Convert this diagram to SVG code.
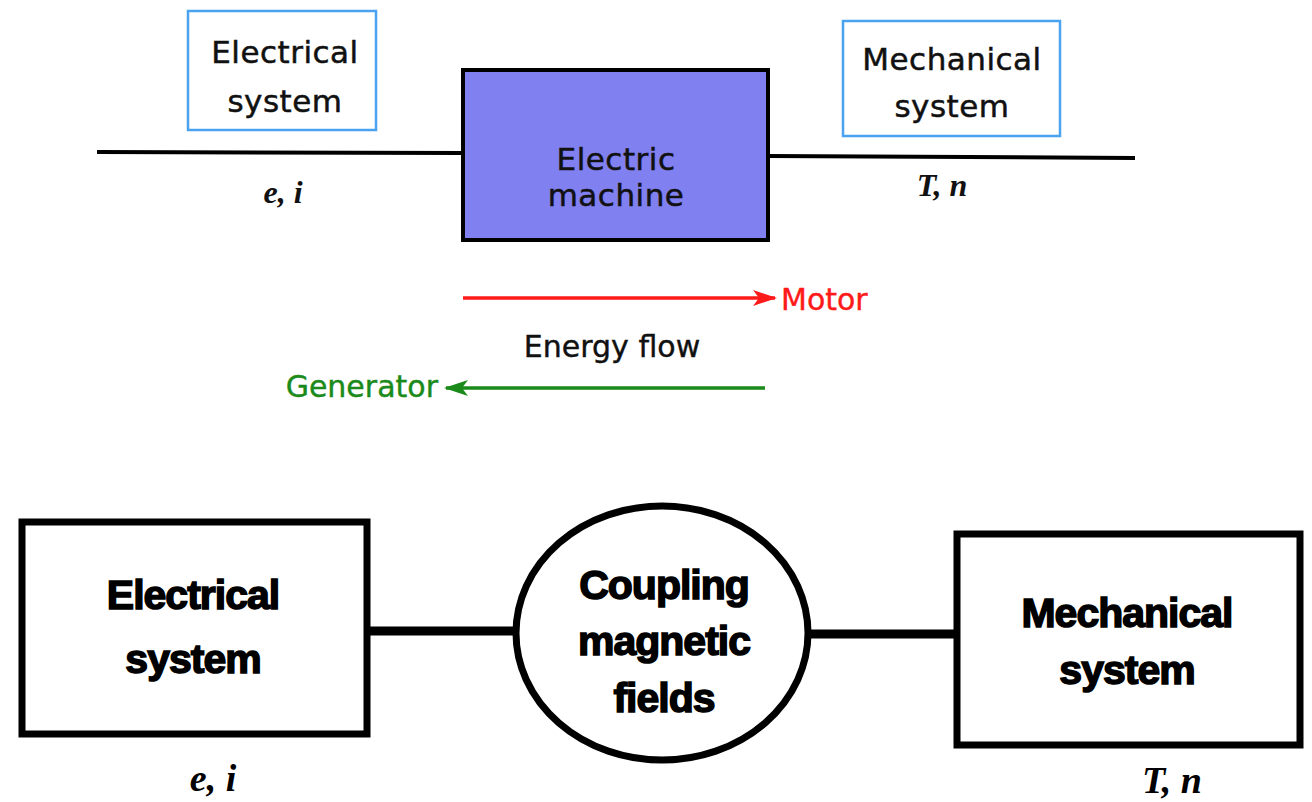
<svg xmlns="http://www.w3.org/2000/svg" width="1312" height="802" viewBox="0 0 1312 802">
<defs>
<marker id="arRed" markerWidth="24" markerHeight="16" refX="22" refY="8" orient="auto" markerUnits="userSpaceOnUse" viewBox="0 0 24 16">
<path d="M0,0 L24,8 L0,16 L6,8 Z" fill="#ff1a1a"/>
</marker>
<marker id="arGreen" markerWidth="24" markerHeight="16" refX="22" refY="8" orient="auto" markerUnits="userSpaceOnUse" viewBox="0 0 24 16">
<path d="M0,0 L24,8 L0,16 L6,8 Z" fill="#1a8a1a"/>
</marker>
<style>
.top{font-family:"DejaVu Sans","Liberation Sans",sans-serif;font-size:31px;fill:#111;text-anchor:middle;letter-spacing:0.5px;stroke:#111;stroke-width:0.5}
.bot{font-family:"Liberation Sans",Arial,sans-serif;font-weight:bold;font-size:41px;fill:#000;text-anchor:middle;stroke:#000;stroke-width:1.5;letter-spacing:-1px}
.var{font-family:"Liberation Serif","Times New Roman",serif;font-style:italic;font-weight:bold;font-size:32px;fill:#111;text-anchor:middle}
.varb{font-family:"Liberation Serif","Times New Roman",serif;font-style:italic;font-weight:bold;font-size:38px;fill:#000;text-anchor:middle}
.flow{font-family:"DejaVu Sans","Liberation Sans",sans-serif;font-size:30px;stroke-width:0.4}
.bluebox{fill:#fff;stroke:#4aa3f0;stroke-width:2.5}
.blk{fill:#fff;stroke:#000;stroke-width:7}
.wire{stroke:#000;stroke-width:4;fill:none}
.wireb{stroke:#000;stroke-width:9;fill:none}
</style>
</defs>
<rect width="1312" height="802" fill="#fff"/>

<g id="connectors">
<line class="wire" x1="97" y1="152" x2="464" y2="153"/>
<line class="wire" x1="768" y1="156" x2="1135" y2="158"/>
<line class="wireb" x1="370" y1="631" x2="516" y2="631"/>
<line class="wireb" x1="808" y1="634" x2="955" y2="634"/>
<line x1="463" y1="298" x2="775" y2="298" stroke="#ff1a1a" stroke-width="3.5" marker-end="url(#arRed)"/>
<line x1="765" y1="388" x2="446" y2="388" stroke="#1a8a1a" stroke-width="3.5" marker-end="url(#arGreen)"/>
</g>

<g id="top-electrical-system">
<rect class="bluebox" x="188" y="11" width="188" height="119"/>
<text class="top" x="285" y="63">Electrical</text>
<text class="top" x="285" y="112">system</text>
</g>

<g id="electric-machine">
<rect x="463" y="70" width="305" height="170" fill="#8080f0" stroke="#000" stroke-width="4"/>
<text class="top" x="616" y="170">Electric</text>
<text class="top" x="616" y="206">machine</text>
</g>

<g id="top-mechanical-system">
<rect class="bluebox" x="843" y="21" width="217" height="115"/>
<text class="top" x="952" y="70">Mechanical</text>
<text class="top" x="952" y="117">system</text>
</g>

<g id="top-vars">
<text class="var" x="283" y="203">e, i</text>
<text class="var" x="942" y="196">T, n</text>
</g>

<g id="energy-flow">
<text class="flow" x="781" y="310" fill="#ff1a1a" stroke="#ff1a1a">Motor</text>
<text class="flow" x="612" y="357" fill="#111" stroke="#111" text-anchor="middle">Energy flow</text>
<text class="flow" x="438" y="397" fill="#1a8a1a" stroke="#1a8a1a" text-anchor="end">Generator</text>
</g>

<g id="bottom-electrical-system">
<rect class="blk" x="22" y="522" width="345" height="212"/>
<text class="bot" x="193" y="609">Electrical</text>
<text class="bot" x="193" y="673">system</text>
</g>

<g id="coupling-fields">
<ellipse cx="662" cy="633" rx="146" ry="127" fill="#fff" stroke="#000" stroke-width="7"/>
<text class="bot" x="664" y="599">Coupling</text>
<text class="bot" x="664" y="655">magnetic</text>
<text class="bot" x="664" y="712">fields</text>
</g>

<g id="bottom-mechanical-system">
<rect class="blk" x="957" y="534" width="343" height="211"/>
<text class="bot" x="1127" y="627">Mechanical</text>
<text class="bot" x="1127" y="684">system</text>
</g>

<g id="bottom-vars">
<text class="varb" x="213" y="791">e, i</text>
<text class="varb" x="1172" y="793">T, n</text>
</g>
</svg>
